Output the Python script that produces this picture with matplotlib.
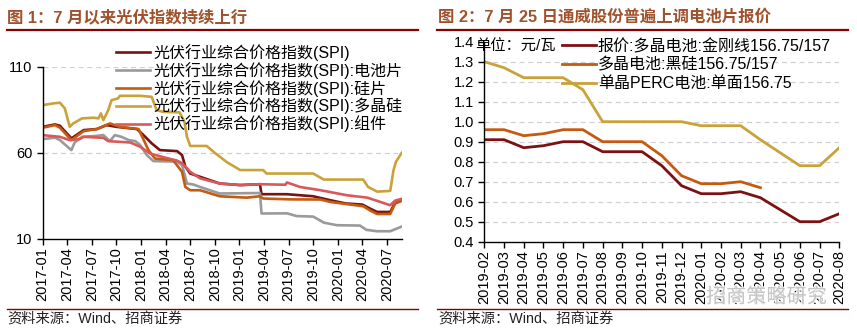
import matplotlib
matplotlib.use("Agg")
import matplotlib.pyplot as plt
from matplotlib.lines import Line2D
import matplotlib.patheffects as pe

plt.rcParams['font.family'] = ['Liberation Sans', 'Noto Sans CJK SC']
plt.rcParams['axes.unicode_minus'] = False

# ---------------- Data: Figure 1 (months since 2017-01) ----------------
spi_t = [0, 1.5, 2.1, 3.5, 5.0, 6.6, 7.8, 9.0, 11.5, 12.3, 13.3, 14.3, 16.4, 17.0, 17.4, 18.0,
         19.2, 21.6, 24.1, 26.5, 26.7, 29.8, 33.0, 35.0, 37.0, 39.0, 40.0, 40.8, 42.4, 43.0, 43.8]
spi_v = [75.1, 76.5, 75.7, 68.4, 73.2, 73.8, 76.1, 75.1, 73.8, 70.3, 65.5, 61.6, 61.0, 58.7, 52.0, 48.0,
         46.1, 42.2, 41.3, 41.8, 36.0, 36.0, 34.8, 32.6, 30.6, 30.0, 27.5, 25.7, 25.7, 31.0, 32.8]

cell_t = [0, 1.5, 2.1, 2.7, 3.5, 3.9, 4.8, 6.4, 7.4, 8.2, 8.8, 9.6, 10.5, 11.3, 11.9, 12.7, 13.5,
          16.4, 17.0, 17.6, 18.4, 19.2, 21.6, 26.5, 26.7, 29.8, 31.0, 33.0, 34.3, 35.9, 38.7, 39.5,
          40.8, 42.4, 43.8]
cell_v = [68.0, 68.8, 67.4, 64.9, 61.6, 66.0, 69.3, 69.8, 70.3, 66.8, 70.3, 69.3, 67.4, 66.8, 64.5,
          58.7, 55.2, 54.9, 52.9, 42.2, 41.6, 40.2, 36.4, 36.7, 24.8, 24.9, 23.3, 23.0, 19.5, 18.0,
          17.8, 15.3, 14.5, 14.5, 17.2]

wafer_t = [0, 1.5, 2.1, 3.5, 5.0, 6.6, 8.2, 9.4, 11.7, 12.9, 13.7, 15.9, 17.0, 17.4, 18.0, 19.2,
           21.6, 24.9, 26.5, 26.9, 30.2, 33.9, 35.1, 39.1, 39.9, 40.8, 42.4, 43.0, 43.8]
wafer_v = [74.6, 76.1, 74.6, 67.4, 72.6, 73.8, 77.1, 75.1, 73.8, 61.6, 56.7, 55.8, 49.0, 40.2, 38.3,
           38.3, 34.8, 34.0, 34.8, 33.5, 33.0, 32.9, 31.5, 29.0, 26.7, 24.5, 24.5, 30.6, 32.1]

poly_t = [0, 1.3, 2.1, 2.7, 3.3, 3.7, 4.8, 6.2, 6.8, 7.1, 7.4, 8.0, 8.4, 9.2, 9.4, 11.9, 13.3, 13.9,
          14.7, 16.7, 17.3, 17.6, 18.0, 20.0, 21.0, 22.5, 24.1, 26.9, 27.3, 33.0, 34.3, 39.1, 39.7,
          40.8, 42.4, 42.8, 43.1, 43.8]
poly_v = [87.7, 88.7, 89.1, 85.8, 75.1, 77.0, 80.0, 80.4, 80.0, 82.9, 79.0, 84.8, 90.6, 91.6, 93.1,
          93.1, 92.5, 84.8, 83.8, 83.5, 78.0, 69.3, 64.0, 64.0, 60.0, 54.5, 50.0, 50.0, 48.0, 48.0,
          44.5, 44.5, 40.2, 37.5, 37.9, 49.9, 54.8, 60.0]

module_t = [0, 2.1, 3.3, 4.5, 5.0, 7.4, 8.0, 10.7, 11.9, 13.1, 15.1, 16.4, 17.0, 18.0, 19.2, 21.6,
            24.1, 26.5, 29.6, 29.8, 31.4, 33.9, 37.1, 39.6, 41.2, 42.4, 43.0, 43.8]
module_v = [70.3, 69.3, 67.4, 68.0, 69.3, 68.7, 66.8, 66.0, 63.5, 59.6, 57.0, 55.5, 54.0, 49.0, 45.2,
            42.2, 41.3, 41.8, 41.5, 42.8, 40.2, 38.3, 35.4, 34.0, 31.5, 29.6, 32.3, 33.3]

left_labels = ['光伏行业综合价格指数(SPI)', '光伏行业综合价格指数(SPI):电池片',
               '光伏行业综合价格指数(SPI):硅片', '光伏行业综合价格指数(SPI):多晶硅',
               '光伏行业综合价格指数(SPI):组件']
left_tick_pos = [0, 3, 6, 9, 12, 15, 18, 21, 24, 27, 30, 33, 36, 39, 42]
left_tick_lbl = ['2017-01', '2017-04', '2017-07', '2017-10', '2018-01', '2018-04', '2018-07',
                 '2018-10', '2019-01', '2019-04', '2019-07', '2019-10', '2020-01', '2020-04', '2020-07']
left_yticks = [10, 60, 110]

# ---------------- Data: Figure 2 ----------------
months2 = ['2019-02', '2019-03', '2019-04', '2019-05', '2019-06', '2019-07', '2019-08', '2019-09',
           '2019-10', '2019-11', '2019-12', '2020-01', '2020-02', '2020-03', '2020-04', '2020-05',
           '2020-06', '2020-07', '2020-08']
diamond = [0.91, 0.91, 0.87, 0.88, 0.90, 0.90, 0.85, 0.85, 0.85, 0.78, 0.68, 0.64, 0.64, 0.65,
           0.62, 0.56, 0.50, 0.50, 0.54]
black_si = [0.96, 0.96, 0.93, 0.94, 0.96, 0.96, 0.90, 0.90, 0.90, 0.83, 0.73, 0.69, 0.69, 0.70,
            0.67, None, None, None, None]
perc = [1.30, 1.27, 1.22, 1.22, 1.22, 1.16, 1.00, 1.00, 1.00, 1.00, 1.00, 0.98, 0.98, 0.98,
        0.91, 0.845, 0.78, 0.78, 0.87]
right_labels = ['报价:多晶电池:金刚线156.75/157', '多晶电池:黑硅156.75/157', '单晶PERC电池:单面156.75']
right_yticks = [0.4, 0.5, 0.6, 0.7, 0.8, 0.9, 1.0, 1.1, 1.2, 1.3, 1.4]

C_DARK = '#7B1113'
C_GRAY = '#9A9A9A'
C_ORANGE = '#C55A11'
C_GOLD = '#C9A23A'
C_PINK = '#D9595B'
C_TITLE = '#A0522D'
C_RULE = '#8B0000'

W, H = 857, 336
fig = plt.figure(figsize=(W / 100, H / 100), dpi=100)


def fx(px):
    return px / W


def fy(py):
    return 1 - py / H


def style_axes(ax):
    for s in ['top', 'right']:
        ax.spines[s].set_visible(False)
    for s in ['left', 'bottom']:
        ax.spines[s].set_color('black')
        ax.spines[s].set_linewidth(1.0)
    ax.tick_params(axis='both', direction='out', length=4, width=1, colors='black', labelsize=10.5)
    ax.tick_params(axis='x', labelrotation=90, pad=2)


# ---------------- Left chart ----------------
ax1 = fig.add_axes([fx(42.7), fy(239), (401.7 - 42.7) / W, (239 - 66.7) / H])
lw = 1.9
ax1.plot(spi_t, spi_v, color=C_DARK, lw=lw, label=left_labels[0])
ax1.plot(cell_t, cell_v, color=C_GRAY, lw=lw, label=left_labels[1])
ax1.plot(wafer_t, wafer_v, color=C_ORANGE, lw=lw, label=left_labels[2])
ax1.plot(poly_t, poly_v, color=C_GOLD, lw=lw, label=left_labels[3])
ax1.plot(module_t, module_v, color=C_PINK, lw=lw, label=left_labels[4])
ax1.set_xlim(0, 43.8)
ax1.set_ylim(10, 110)
ax1.set_yticks(left_yticks)
ax1.set_xticks(left_tick_pos)
ax1.set_xticklabels(left_tick_lbl)
for yv in [60, 110]:
    ax1.axhline(yv, color='#D0D0D0', lw=0.9, ls=(0, (4, 3)), zorder=0)
style_axes(ax1)
leg1 = ax1.legend(loc='upper left', bbox_to_anchor=(fx(116), fy(44)), bbox_transform=fig.transFigure,
                  frameon=False, fontsize=11.5, handlelength=2.1, handletextpad=0.25,
                  labelspacing=0.05, borderpad=0, borderaxespad=0)

# ---------------- Right chart ----------------
ax2 = fig.add_axes([fx(484.3), fy(241.7), (839.3 - 484.3) / W, (241.7 - 41.7) / H])
xs = list(range(len(months2)))
bs_x = [x for x, v in zip(xs, black_si) if v is not None]
bs_v = [v for v in black_si if v is not None]
lw2 = 2.0
ax2.plot(xs, diamond, color=C_DARK, lw=lw2, label=right_labels[0])
ax2.plot(bs_x, bs_v, color=C_ORANGE, lw=lw2, label=right_labels[1])
ax2.plot(xs, perc, color=C_GOLD, lw=lw2, label=right_labels[2])
ax2.set_xlim(0, len(months2) - 1)
ax2.set_ylim(0.4, 1.4)
ax2.set_yticks(right_yticks)
ax2.set_yticklabels([f'{v:.1f}' for v in right_yticks])
ax2.set_xticks(xs)
ax2.set_xticklabels(months2)
for yv in right_yticks[1:-1]:
    ax2.axhline(yv, color='#D0D0D0', lw=0.9, ls=(0, (4, 3)), zorder=0)
style_axes(ax2)
leg2 = ax2.legend(loc='upper left', bbox_to_anchor=(fx(562), fy(38.5)), bbox_transform=fig.transFigure,
                  frameon=False, fontsize=11.5, handlelength=2.1, handletextpad=0.15,
                  labelspacing=0.22, borderpad=0, borderaxespad=0)
fig.text(fx(475), fy(47), '单位：元/瓦', fontsize=11, va='center', ha='left')

# ---------------- Titles, rules, sources ----------------
fig.text(fx(7), fy(17), '图 1：7 月以来光伏指数持续上行', fontsize=11.8, fontweight='bold',
         color=C_TITLE, va='center', ha='left')
fig.text(fx(438), fy(17), '图 2：7 月 25 日通威股份普遍上调电池片报价', fontsize=11.8, fontweight='bold',
         color=C_TITLE, va='center', ha='left')
for x0, x1 in [(7, 418), (437, 848)]:
    fig.add_artist(Line2D([fx(x0), fx(x1)], [fy(29.5), fy(29.5)], color=C_RULE, lw=1.6,
                          transform=fig.transFigure))
    fig.add_artist(Line2D([fx(x0), fx(x1)], [fy(308.5), fy(308.5)], color=C_RULE, lw=1.0,
                          transform=fig.transFigure))
fig.text(fx(7), fy(320), '资料来源：Wind、招商证券', fontsize=10.3, va='center', ha='left', color='#222222')
fig.text(fx(438), fy(320), '资料来源：Wind、招商证券', fontsize=10.3, va='center', ha='left', color='#222222')

# watermark
fig.text(fx(706), fy(297), '招商策略研究', fontsize=14.5, color='#BDBDBD', va='center', ha='left',
         alpha=0.85, path_effects=[pe.withStroke(linewidth=2, foreground='white')])

fig.savefig('out.png', dpi=100)
